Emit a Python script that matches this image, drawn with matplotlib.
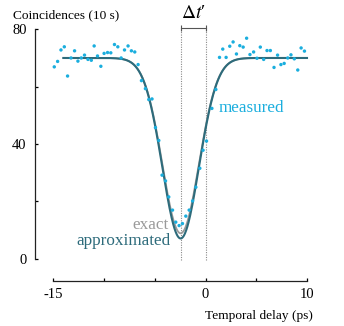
import numpy as np
import matplotlib
matplotlib.use("Agg")
import matplotlib.pyplot as plt

plt.rcParams['font.family'] = ['Liberation Serif', 'DejaVu Serif']
plt.rcParams['mathtext.fontset'] = 'stix'
plt.rcParams['axes.unicode_minus'] = False

# measured coincidences (delay in ps, counts per 10 s)
delay = [-14.90, -14.57, -14.24, -13.91, -13.59, -13.25, -12.90, -12.57, -12.24, -11.92,
         -11.58, -11.25, -10.97, -10.64, -10.31, -9.99, -9.65, -9.33, -8.97, -8.64,
         -8.31, -7.98, -7.63, -7.30, -6.97, -6.64, -6.31, -5.92, -5.59, -5.27,
         -4.93, -4.60, -4.28, -3.94, -3.62, -3.25, -2.93, -2.60, -2.27, -1.94,
         -1.61, -1.27, -0.95, -0.56, -0.24, 0.10, 0.63, 1.02, 1.38, 1.70,
         2.03, 2.39, 2.72, 3.05, 3.38, 3.71, 4.05, 4.38, 4.74, 5.07,
         5.40, 5.73, 6.06, 6.39, 6.75, 7.10, 7.43, 7.75, 8.10, 8.42,
         8.75, 9.09, 9.42, 9.75]
counts = [66.9, 68.8, 72.8, 73.9, 63.7, 70.0, 72.5, 68.9, 70.0, 71.0,
          69.5, 69.2, 74.2, 70.7, 67.1, 71.6, 71.9, 71.8, 74.7, 73.9,
          70.0, 72.8, 74.2, 72.5, 72.1, 67.7, 62.1, 59.3, 55.5, 55.7,
          45.7, 41.2, 29.1, 27.1, 21.5, 16.9, 12.7, 11.5, 12.2, 14.8,
          16.9, 20.1, 24.9, 31.5, 37.8, 41.0, 52.4, 59.0, 70.2, 73.1,
          70.2, 74.1, 75.6, 71.4, 74.3, 73.8, 76.9, 71.2, 72.1, 69.9,
          73.8, 69.5, 72.6, 72.6, 66.7, 71.0, 67.7, 68.1, 70.0, 71.1,
          69.7, 65.8, 73.5, 72.4]

# fitted dip parameters
baseline = 70.0
dip_center = -2.45
dip_width = 2.54
min_approx = 7.0
min_exact = 8.8
curve_range = (-14.0, 10.0)

teal = "#2d6b7b"
cyan = "#1aaede"
grey = "#9a9a9a"


def dip(t, minimum):
    return baseline - (baseline - minimum) * np.exp(-((t - dip_center) / dip_width) ** 2)


fig = plt.figure(figsize=(3.44, 3.26), dpi=100)
ax = fig.add_axes([0.1017, 0.138, 0.8055, 0.7896])

t = np.linspace(curve_range[0], curve_range[1], 600)
ax.plot(t, dip(t, min_exact), color=grey, lw=1.3, zorder=2)
ax.plot(t, dip(t, min_approx), color=teal, lw=1.5, zorder=3)
ax.scatter(delay, counts, s=6, color=cyan, edgecolors='none', zorder=4)

# delay markers
for xv in (dip_center, 0.0):
    ax.plot([xv, xv], [-0.5, 80.3], color="#8a8a8a", lw=0.8, ls=(0, (1, 1.2)), zorder=1)
ax.plot([dip_center, 0.0], [80.6, 80.6], color="#555555", lw=0.8,
        marker='|', ms=4, mew=0.8, clip_on=False)
ax.text(dip_center / 2, 85.5, r"$\Delta t$′", fontsize=14, ha='center', va='center',
        clip_on=False)

ax.text(1.3, 52.4, "measured", color=cyan, fontsize=12.3, ha='left', va='center')
ax.text(-3.6, 11.8, "exact", color=grey, fontsize=12.3, ha='right', va='center')
ax.text(-3.4, 6.0, "approximated", color=teal, fontsize=12.3, ha='right', va='center')

ax.set_xlim(-16.8, 10.5)
ax.set_ylim(-7.85, 82)
ax.spines['top'].set_visible(False)
ax.spines['right'].set_visible(False)
ax.spines['left'].set_bounds(0, 80)
ax.spines['bottom'].set_bounds(-15, 10)
for s in ('left', 'bottom'):
    ax.spines[s].set_linewidth(0.9)
    ax.spines[s].set_color("#222222")

ax.set_xticks([-15, -10, -5, 0, 5, 10])
ax.set_xticklabels(["-15", "", "", "0", "", "10"])
ax.set_yticks([0, 20, 40, 60, 80])
ax.set_yticklabels(["0", "", "40", "", "80"])
ax.tick_params(direction='in', length=2.5, width=0.9, labelsize=10.5, pad=5)
ax.tick_params(axis='y', pad=6)

fig.text(12.7 / 344, 1 - 15 / 326, "Coincidences (10 s)", fontsize=9.6, ha='left', va='center')
fig.text(313 / 344, 1 - 316 / 326, "Temporal delay (ps)", fontsize=9.6, ha='right', va='center')

fig.savefig("out.png", dpi=100)
